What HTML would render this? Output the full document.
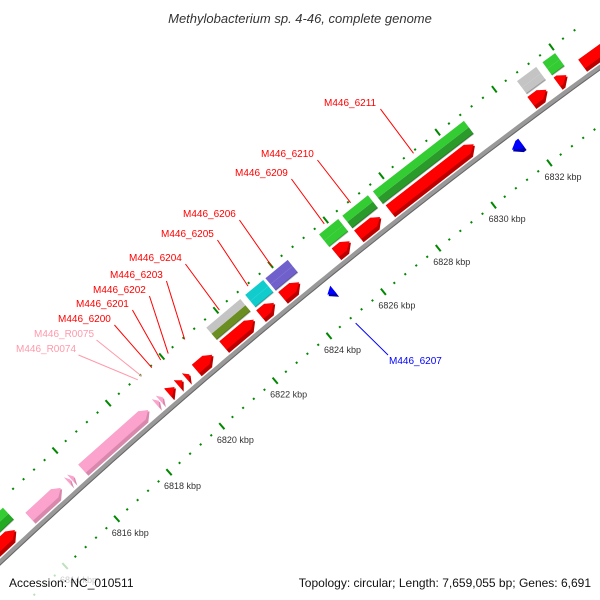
<!DOCTYPE html>
<html><head><meta charset="utf-8"><style>
html,body{margin:0;padding:0;background:#fff;overflow:hidden;width:600px;height:600px;}
svg{display:block;font-family:"Liberation Sans",sans-serif;overflow:hidden;}
</style></head><body>
<svg id="map" width="600" height="600" viewBox="0 0 600 600">
<text x="300" y="23" text-anchor="middle" font-size="13" font-style="italic" fill="#333">Methylobacterium sp. 4-46, complete genome</text>
<g id="ticks"></g>
<g id="axis"></g>
<g id="genes"></g>
<g id="labels"></g>
<text x="9" y="587" font-size="12" fill="#111">Accession: NC_010511</text>
<text x="591" y="587" text-anchor="end" font-size="12" fill="#111">Topology: circular; Length: 7,659,055 bp; Genes: 6,691</text>
</svg>
<script>
// forward strand genes (kbp)
const fwdStart = [6812.0, 6819.46, 6819.82, 6820.12, 6820.49, 6821.51, 6822.87, 6823.68, 6825.63, 6826.44, 6827.58, 6832.62, 6833.54, 6834.4];
const fwdEnd   = [6813.65, 6819.71, 6820.0, 6820.26, 6821.11, 6822.65, 6823.39, 6824.31, 6826.15, 6827.25, 6830.6, 6833.17, 6833.87, 6835.8];
// RNA genes (pink, forward)
const rnaStart = [6814.2, 6815.68, 6815.8, 6816.22, 6819.0, 6819.15];
const rnaEnd   = [6815.41, 6815.77, 6815.9, 6818.72, 6819.12, 6819.27];
// outer row blocks
const blkStart = [6811.5, 6821.48, 6822.91, 6823.65, 6825.6, 6826.44, 6827.54, 6832.65, 6833.54];
const blkEnd   = [6813.83, 6822.73, 6823.57, 6824.46, 6826.29, 6827.36, 6830.78, 6833.32, 6833.98];
const blkTop   = ["#3c3","#c4c4c4","#1cc","#7060cc","#3c3","#3c3","#3c3","#c4c4c4","#3c3"];
const blkBot   = ["#2a2","#6b8e23","#1cc","#7060cc","#3c3","#2a9a2a","#2a9a2a","#c4c4c4","#3c3"];
// reverse strand genes
const revStart = [6824.71, 6831.37];
const revEnd   = [6824.93, 6831.7];
// labels
const labelText = ["M446_6211","M446_6210","M446_6209","M446_6206","M446_6205","M446_6204","M446_6203","M446_6202","M446_6201","M446_6200","M446_R0075","M446_R0074","M446_6207"];
const labelKbp  = [6829.1,6826.85,6825.9,6824.0,6823.13,6822.08,6820.8,6820.19,6819.91,6819.58,6819.21,6819.06,6824.82];
const labelX = [324,261,235,183,161,129,110,93,76,58,34,16,389];
const labelY = [106,157,176,217,237,261,278,293,307,322,337,352,364];
const labelColor = ["#f00","#f00","#f00","#f00","#f00","#f00","#f00","#f00","#f00","#f00","#f9a","#f9a","#00f"];
// tick labels
const tickKbp = [6814,6816,6818,6820,6822,6824,6826,6828,6830,6832,6834];

const CX=4204, CY=5047, A0=-132.07, DEG=0.329, K0=6816;
const NS="http://www.w3.org/2000/svg";
function P(k,r){const a=(A0+(k-K0)*DEG)*Math.PI/180;return [CX+r*Math.cos(a),CY+r*Math.sin(a)];}
function mk(tag,attrs,parent){const e=document.createElementNS(NS,tag);for(const k in attrs)e.setAttribute(k,attrs[k]);parent.appendChild(e);return e;}
function pts(a){return a.map(p=>p[0].toFixed(1)+","+p[1].toFixed(1)).join(" ");}
const gT=document.getElementById("ticks"),gA=document.getElementById("axis"),gG=document.getElementById("genes"),gL=document.getElementById("labels");

// ticks
for(let i=0;i<=70;i++){
  const k=6808+i*0.4;
  const major=Math.abs(k/2-Math.round(k/2))<0.01;
  [[6192,major?4:1],[6100,major?4:1]].forEach(([r,h])=>{
    const a=P(k,r-h),b=P(k,r+h);
    if(a[0]<0||a[0]>598||b[0]<0||b[0]>598||a[1]<30||a[1]>596||b[1]>596)return;
    const fade=(a[1]>560)?0.25:1;
    const t=mk("line",{x1:a[0],y1:a[1],x2:b[0],y2:b[1],stroke:"#080","stroke-width":2,opacity:fade},gT);
    
    
  });
}
tickKbp.forEach(k=>{
  const p=P(k,6100);
  if(p[1]+17>596||p[0]>560)return;
  const t=mk("text",{x:p[0]-5,y:p[1]+17,"font-size":9,fill:"#333",opacity:p[1]>555?0.25:1},gT);
  t.textContent=k+" kbp";
  
  
});

// axis arc
let arc=[];for(let k=6809;k<=6838;k+=0.25)arc.push(P(k,6147));
const ax1=mk("polyline",{points:pts(arc),fill:"none",stroke:"#999","stroke-width":5},gA);


let arc2=[];for(let k=6809;k<=6838;k+=0.25)arc2.push(P(k,6145));
const ax2=mk("polyline",{points:pts(arc2),fill:"none",stroke:"#666","stroke-width":1},gA);



function arrow(s,e,r1,r2,fwd){
  const h=Math.min(0.23,e-s), m=(r1+r2)/2;
  if(fwd) return [P(s,r1),P(e-h,r1),P(e,m),P(e-h,r2),P(s,r2)];
  return [P(e,r1),P(s+h,r1),P(s,m),P(s+h,r2),P(e,r2)];
}
function drawArrow(s,e,r1,r2,fwd,light,dark,name){
  const g=mk("g",{},gG);
  
  
  mk("polygon",{points:pts(arrow(s,e,r1,r2,fwd)),fill:dark},g);
  mk("polygon",{points:pts(arrow(s,e,r1+4,r2,fwd)),fill:light},g);
}
fwdStart.forEach((s,i)=>drawArrow(s,fwdEnd[i],6151,6166,true,"#f00","#b00","forward-gene"));
rnaStart.forEach((s,i)=>drawArrow(s,rnaEnd[i],6151,6166,true,"#fba3cc","#d888ac","rna-gene"));
revStart.forEach((s,i)=>drawArrow(s,revEnd[i],6124,6138,false,"#00f","#00a","reverse-gene"));
blkStart.forEach((s,i)=>{
  const e=blkEnd[i];
  const g=mk("g",{},gG);
  
  
  mk("polygon",{points:pts([P(s,6169),P(e,6169),P(e,6177),P(s,6177)]),fill:blkBot[i]},g);
  mk("polygon",{points:pts([P(s,6177),P(e,6177),P(e,6185),P(s,6185)]),fill:blkTop[i]},g);
  mk("line",{x1:P(s,6169)[0],y1:P(s,6169)[1],x2:P(e,6169)[0],y2:P(e,6169)[1],stroke:"rgba(0,0,0,0.25)","stroke-width":1.5},g);
});

// labels
labelText.forEach((t,i)=>{
  const rev=labelColor[i]==="#00f";
  const end=P(labelKbp[i],rev?6093:6190);
  const w=t.length*6.05;
  const sx=rev?labelX[i]-1:labelX[i]+w+2, sy=rev?labelY[i]-9:labelY[i]+3;
  const ln=mk("line",{x1:sx,y1:sy,x2:end[0],y2:end[1],stroke:labelColor[i],"stroke-width":1},gL);
  
  
  const tx=mk("text",{x:labelX[i],y:labelY[i],"font-size":10,fill:labelColor[i]},gL);
  tx.textContent=t;
  
  
});
</script>
</body></html>
